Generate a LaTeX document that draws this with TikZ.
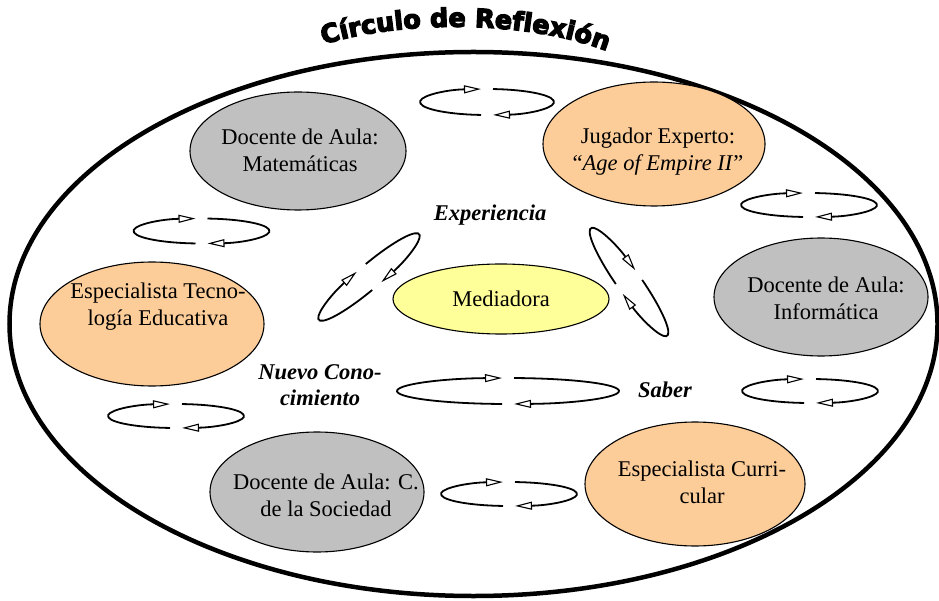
\documentclass[tikz,border=0pt]{standalone}
\usepackage{fontspec}
\setmainfont{Liberation Serif}
\newfontfamily\titlefont[UprightFont={* Bold},FakeBold=5]{DejaVu Sans}
\usetikzlibrary{arrows.meta,decorations.text,shapes.geometric}
\definecolor{grayc}{RGB}{192,192,192}
\definecolor{orangec}{RGB}{252,204,153}
\definecolor{yellowc}{RGB}{255,255,153}
\tikzset{
  cyc/.style={line width=1.8pt},
  tipend/.style={-{Triangle[open,length=17pt,width=8pt,line width=1.1pt]}},
  bubble/.style={ellipse, draw, line width=1.1pt, inner sep=0pt},
  lbl/.style={font=\fontsize{22.5}{27}\selectfont, align=center, inner sep=0pt},
  kw/.style={font=\fontsize{22.5}{26}\selectfont\bfseries\itshape, align=center, inner sep=0pt}
}
\newcommand\cycarr[5]{%
  \begin{scope}[shift={(#1,#2)},rotate=#5]
    \pgfmathsetmacro\gapang{asin(6/#3)}
    \draw[cyc,tipend] (270-\gapang:#3pt and #4pt)
      arc[start angle=270-\gapang, end angle=90+\gapang, x radius=#3pt, y radius=#4pt];
    \draw[cyc,tipend] (90-\gapang:#3pt and #4pt)
      arc[start angle=90-\gapang, end angle=-90+\gapang, x radius=#3pt, y radius=#4pt];
  \end{scope}}
\begin{document}
\begin{tikzpicture}[x=1pt,y=-1pt]
\useasboundingbox (0,0) rectangle (939,601);
% outer ellipse
\node[ellipse, draw, line width=4.5pt, inner sep=0pt, minimum width=928pt, minimum height=544pt] (outer) at (473.5,324) {};
% title
\coordinate (t1) at (316,47);
\coordinate (t2) at (614,54);
\path[decorate, decoration={text along path, text align=center,
  text={|\titlefont\fontsize{25.5}{26}\selectfont|Círculo de Reflexión}}]
  (t1) .. controls (400,18) and (535,20) .. (t2);
% bubbles
\node[bubble, fill=grayc, minimum width=216pt, minimum height=118pt] (mat) at (298,151) {};
\node[bubble, fill=orangec, minimum width=222pt, minimum height=124pt] (jug) at (654,144) {};
\node[bubble, fill=orangec, minimum width=224pt, minimum height=124pt] (tec) at (152,324) {};
\node[bubble, fill=yellowc, minimum width=216pt, minimum height=70pt] (med) at (501,299) {};
\node[bubble, fill=grayc, minimum width=214pt, minimum height=118pt] (inf) at (821,297) {};
\node[bubble, fill=grayc, minimum width=214pt, minimum height=120pt] (soc) at (317,492) {};
\node[bubble, fill=orangec, minimum width=220pt, minimum height=124pt] (cur) at (695,484) {};
% texts
\node[lbl] (matT) at (300,150) {Docente de Aula:\\Matemáticas};
\node[lbl] (jugT) at (658,151.5) {Jugador Experto:\\“\textit{Age of Empire II}”};
\node[lbl] (tecT) at (158,306.5) {Especialista Tecno-\\logía Educativa};
\node[lbl] (medT) at (501,299) {Mediadora};
\node[lbl] (infT) at (826,298) {Docente de Aula:\\Informática};
\node[lbl] (socT) at (326,495) {Docente de Aula: C.\\de la Sociedad};
\node[lbl] (curT) at (702,482) {Especialista Curri-\\cular};
\node[kw] (exp) at (490,215) {Experiencia};
\node[kw] (nc) at (320,385) {Nuevo Cono-\\cimiento};
\node[kw] (sab) at (665,390) {Saber};
% cycle arrows
\cycarr{487}{102}{67}{13}{0}
\cycarr{201.5}{231}{68}{12.5}{0}
\cycarr{809}{205}{68}{12}{0}
\cycarr{508}{391}{111}{13}{0}
\cycarr{810}{391}{68}{12}{0}
\cycarr{176}{416}{68}{12}{0}
\cycarr{509}{494}{68}{12}{0}
\cycarr{369}{277}{66}{12}{40.5}
\cycarr{629}{282}{66}{12}{-54.7}
\end{tikzpicture}
\end{document}
